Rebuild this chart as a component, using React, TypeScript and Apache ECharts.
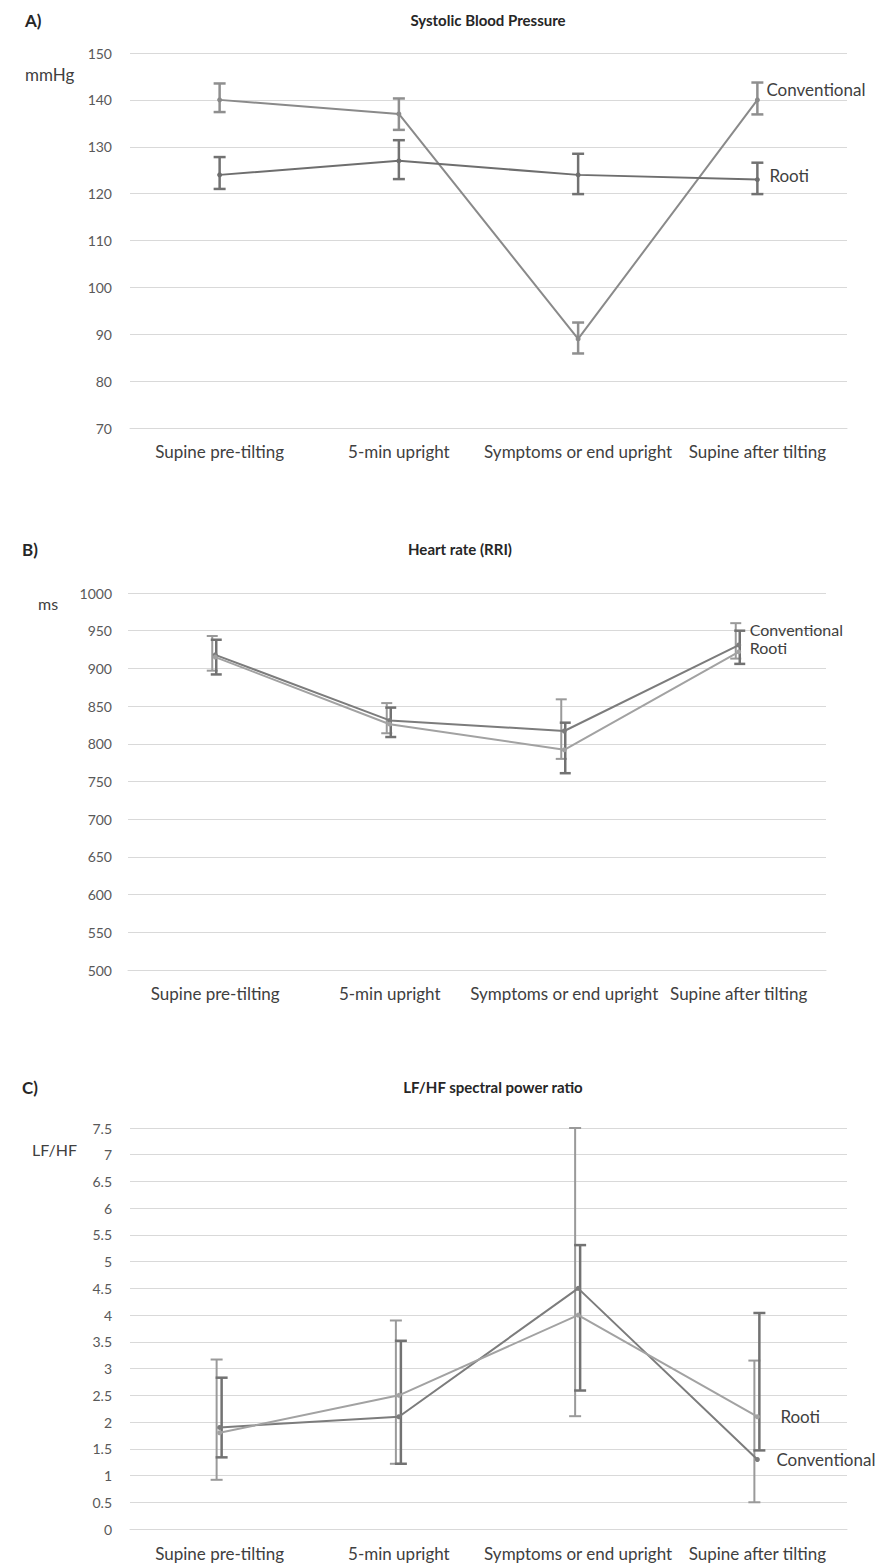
import React, { useEffect, useRef } from 'react';
import * as echarts from 'echarts';

const categories = ['Supine pre-tilting', '5-min upright', 'Symptoms or end upright', 'Supine after tilting'];

// A) Systolic blood pressure (mmHg)
const sbpConventional = [140, 137, 89, 140];
const sbpConventionalLow = [137.4, 133.6, 85.9, 136.9];
const sbpConventionalHigh = [143.5, 140.3, 92.5, 143.7];
const sbpRooti = [124, 127, 124, 123];
const sbpRootiLow = [121, 123.1, 119.9, 119.9];
const sbpRootiHigh = [127.8, 131.4, 128.5, 126.6];

// B) Heart rate (RRI, ms)
const rriConventional = [918, 831, 817, 931];
const rriConventionalLow = [897, 814, 780, 913];
const rriConventionalHigh = [943, 854, 859, 960];
const rriRooti = [915, 826, 792, 922];
const rriRootiLow = [892, 809, 761, 906];
const rriRootiHigh = [938, 848, 828, 950];

// C) LF/HF spectral power ratio
const lfhfConventional = [1.9, 2.1, 4.5, 1.3];
const lfhfConventionalLow = [0.92, 1.22, 2.11, 0.5];
const lfhfConventionalHigh = [3.17, 3.9, 7.5, 3.15];
const lfhfRooti = [1.8, 2.5, 4.0, 2.1];
const lfhfRootiLow = [1.34, 1.22, 2.59, 1.47];
const lfhfRootiHigh = [2.83, 3.52, 5.31, 4.04];

const FONT = 'Lato, "Open Sans", sans-serif';
const GRID_COLOR = '#d9d9d9';
const TEXT = '#404040';

function errData(low: number[], high: number[]) {
  return low.map((l, i) => [i, l, high[i]]);
}

function errorSeries(idx: number, low: number[], high: number[], color: string, width: number, cap: number, dx: number) {
  return {
    type: 'custom',
    xAxisIndex: idx,
    yAxisIndex: idx,
    data: errData(low, high),
    encode: { x: 0, y: [1, 2] },
    z: 3,
    silent: true,
    renderItem: (params: any, api: any) => {
      const lo = api.coord([api.value(0), api.value(1)]);
      const hi = api.coord([api.value(0), api.value(2)]);
      const x = lo[0] + dx;
      const style = { stroke: color, lineWidth: width };
      return {
        type: 'group',
        children: [
          { type: 'line', shape: { x1: x, y1: lo[1], x2: x, y2: hi[1] }, style },
          { type: 'line', shape: { x1: x - cap / 2, y1: lo[1], x2: x + cap / 2, y2: lo[1] }, style },
          { type: 'line', shape: { x1: x - cap / 2, y1: hi[1], x2: x + cap / 2, y2: hi[1] }, style },
        ],
      };
    },
  };
}

function lineSeries(idx: number, name: string, data: number[], color: string, offset: number[], size: number) {
  return {
    type: 'line',
    name,
    xAxisIndex: idx,
    yAxisIndex: idx,
    data,
    symbol: 'circle',
    symbolSize: 5,
    z: 4,
    lineStyle: { color, width: 2 },
    itemStyle: { color },
    endLabel: {
      show: true,
      formatter: '{a}',
      color: TEXT,
      fontSize: size,
      fontFamily: FONT,
      offset,
      distance: 5,
    },
  };
}

function xAxis(idx: number, margin: number) {
  return {
    type: 'category',
    gridIndex: idx,
    data: categories,
    boundaryGap: true,
    axisTick: { show: false },
    axisLine: { show: true, lineStyle: { color: GRID_COLOR, width: 1 } },
    axisLabel: { interval: 0, color: TEXT, fontSize: 17, fontFamily: FONT, margin },
    splitLine: { show: false },
  };
}

function yAxis(idx: number, min: number, max: number, interval: number, margin: number) {
  return {
    type: 'value',
    gridIndex: idx,
    min,
    max,
    interval,
    axisLine: { show: false },
    axisTick: { show: false },
    axisLabel: { color: '#595959', fontSize: 14, fontFamily: FONT, margin, formatter: (v: number) => String(v) },
    splitLine: { show: true, lineStyle: { color: GRID_COLOR, width: 1 } },
  };
}

function txt(x: number, y: number, text: string, bold: boolean, align: string = 'left', size: number = 16) {
  return {
    type: 'text',
    x,
    y,
    style: {
      text,
      fill: bold ? '#262626' : TEXT,
      fontSize: size,
      fontWeight: bold ? 'bold' : 'normal',
      fontFamily: FONT,
      textAlign: align,
      textVerticalAlign: 'middle',
    },
  };
}

export default function App() {
  const ref = useRef<HTMLDivElement>(null);
  useEffect(() => {
    const chart = echarts.init(ref.current!, null, { renderer: 'svg' });
    const option = {
      animation: false,
      backgroundColor: '#ffffff',
      grid: [
        { left: 130, top: 53, width: 717, height: 375 },
        { left: 128, top: 593, width: 698, height: 377 },
        { left: 130, top: 1128, width: 717, height: 401 },
      ],
      xAxis: [xAxis(0, 15), xAxis(1, 15), xAxis(2, 16)],
      yAxis: [yAxis(0, 70, 150, 10, 18), yAxis(1, 500, 1000, 50, 16), yAxis(2, 0, 7.5, 0.5, 18)],
      graphic: [
        txt(25, 20, 'A)', true, 'left', 17),
        txt(488, 20, 'Systolic Blood Pressure', true, 'center', 15),
        txt(25, 74, 'mmHg', false, 'left', 17),
        txt(22, 549, 'B)', true, 'left', 17),
        txt(460, 549, 'Heart rate (RRI)', true, 'center', 15),
        txt(38, 603, 'ms', false, 'left', 16),
        txt(22, 1087, 'C)', true, 'left', 17),
        txt(493, 1087, 'LF/HF spectral power ratio', true, 'center', 15),
        txt(32, 1149, 'LF/HF', false, 'left', 16),
      ],
      series: [
        errorSeries(0, sbpConventionalLow, sbpConventionalHigh, '#8f8f8f', 2.5, 12, 0),
        errorSeries(0, sbpRootiLow, sbpRootiHigh, '#727272', 2.5, 12, 0),
        lineSeries(0, 'Conventional', sbpConventional, '#8a8a8a', [4, -10], 17),
        lineSeries(0, 'Rooti', sbpRooti, '#6e6e6e', [7, -4], 17),

        errorSeries(1, rriConventionalLow, rriConventionalHigh, '#9a9a9a', 2, 11, -3),
        errorSeries(1, rriRootiLow, rriRootiHigh, '#727272', 2.5, 11, 1),
        lineSeries(1, 'Conventional', rriConventional, '#7c7c7c', [6, -16], 16),
        lineSeries(1, 'Rooti', rriRooti, '#a2a2a2', [6, -4], 16),

        errorSeries(2, lfhfConventionalLow, lfhfConventionalHigh, '#9a9a9a', 2, 12, -3),
        errorSeries(2, lfhfRootiLow, lfhfRootiHigh, '#727272', 2.5, 12, 2),
        lineSeries(2, 'Conventional', lfhfConventional, '#7c7c7c', [14, 0], 17),
        lineSeries(2, 'Rooti', lfhfRooti, '#a2a2a2', [18, 0], 17),
      ],
    };
    chart.setOption(option as any);
    return () => chart.dispose();
  }, []);
  return <div ref={ref} style={{ position: 'absolute', left: 0, top: 0, width: 879, height: 1564, background: '#fff' }} />;
}
